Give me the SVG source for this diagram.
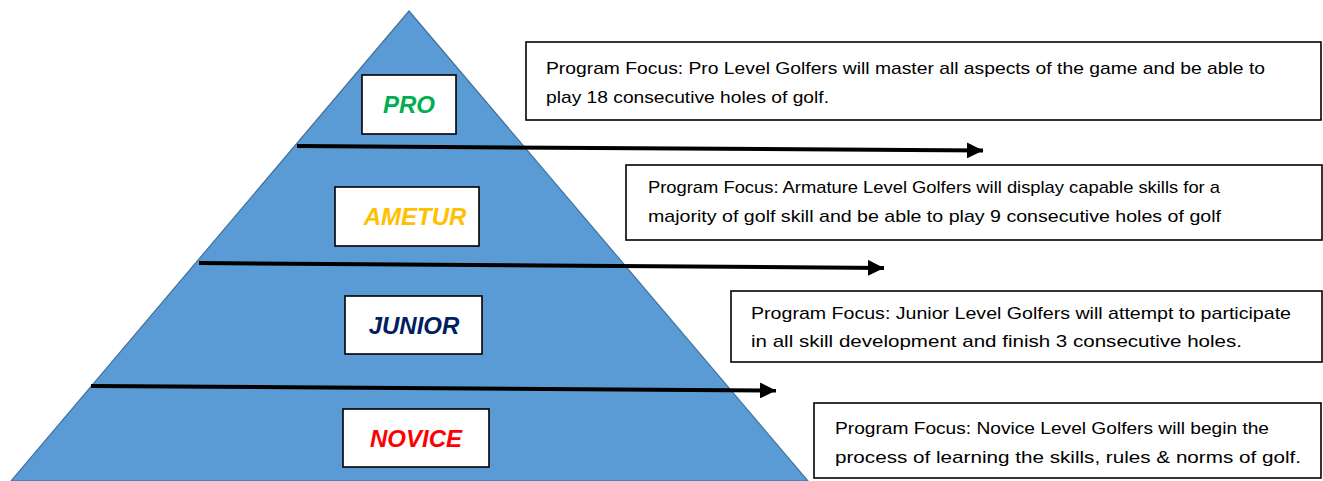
<svg xmlns="http://www.w3.org/2000/svg" width="1323" height="481" viewBox="0 0 1323 481">
<defs>
<marker id="ah" viewBox="0 0 10 10" refX="10" refY="5" markerWidth="4" markerHeight="4" orient="auto" markerUnits="strokeWidth">
<path d="M0,0 L10,5 L0,10 Z" fill="#000"/>
</marker>
<style>
.lvl{fill:#fff;stroke:#000;stroke-width:1.6}
.lab{font-family:"Liberation Sans",Arial,sans-serif;font-weight:bold;font-style:italic;font-size:24px;text-anchor:middle}
.box{fill:#fff;stroke:#000;stroke-width:1.6}
.txt{font-family:"Liberation Sans",Arial,sans-serif;font-size:17px;fill:#000}
.conn{stroke:#000;stroke-width:4;fill:none;marker-end:url(#ah)}
</style>
</defs>
<rect width="1323" height="481" fill="#fff"/>
<g id="pyramid">
<polygon points="409,11 808,481 11,481" fill="#5B9BD5" stroke="#41719C" stroke-width="1.2"/>
</g>
<g id="connectors">
<line class="conn" x1="297" y1="146" x2="983" y2="150.5"/>
<line class="conn" x1="199" y1="263" x2="884" y2="268"/>
<line class="conn" x1="91" y1="386" x2="776" y2="390.5"/>
</g>
<g id="pro">
<rect class="lvl" x="362" y="75" width="94" height="59"/>
<text class="lab" x="409" y="113" fill="#00B050">PRO</text>
</g>
<g id="ametur">
<rect class="lvl" x="335" y="187" width="144" height="59"/>
<text class="lab" x="415" y="225" fill="#FFC000">AMETUR</text>
</g>
<g id="junior">
<rect class="lvl" x="345" y="296" width="137" height="58"/>
<text class="lab" x="414" y="334" fill="#002060">JUNIOR</text>
</g>
<g id="novice">
<rect class="lvl" x="343" y="409" width="146" height="58"/>
<text class="lab" x="416" y="447" fill="#FF0000">NOVICE</text>
</g>
<g id="focus-pro">
<rect class="box" x="526" y="42" width="795" height="78"/>
<text class="txt" x="546" y="74" textLength="719" lengthAdjust="spacingAndGlyphs">Program Focus: Pro Level Golfers will master all aspects of the game and be able to</text>
<text class="txt" x="546" y="103" textLength="283" lengthAdjust="spacingAndGlyphs">play 18 consecutive holes of golf.</text>
</g>
<g id="focus-ametur">
<rect class="box" x="626" y="165" width="696" height="75"/>
<text class="txt" x="648" y="193" textLength="572" lengthAdjust="spacingAndGlyphs">Program Focus: Armature Level Golfers will display capable skills for a</text>
<text class="txt" x="648" y="222" textLength="573" lengthAdjust="spacingAndGlyphs">majority of golf skill and be able to play 9 consecutive holes of golf</text>
</g>
<g id="focus-junior">
<rect class="box" x="731" y="291" width="591" height="71"/>
<text class="txt" x="751" y="319" textLength="540" lengthAdjust="spacingAndGlyphs">Program Focus: Junior Level Golfers will attempt to participate</text>
<text class="txt" x="751" y="347" textLength="491" lengthAdjust="spacingAndGlyphs">in all skill development and finish 3 consecutive holes.</text>
</g>
<g id="focus-novice">
<rect class="box" x="814" y="403" width="507" height="75"/>
<text class="txt" x="835" y="434" textLength="434" lengthAdjust="spacingAndGlyphs">Program Focus: Novice Level Golfers will begin the</text>
<text class="txt" x="835" y="463" textLength="466" lengthAdjust="spacingAndGlyphs">process of learning the skills, rules &amp; norms of golf.</text>
</g>
</svg>
